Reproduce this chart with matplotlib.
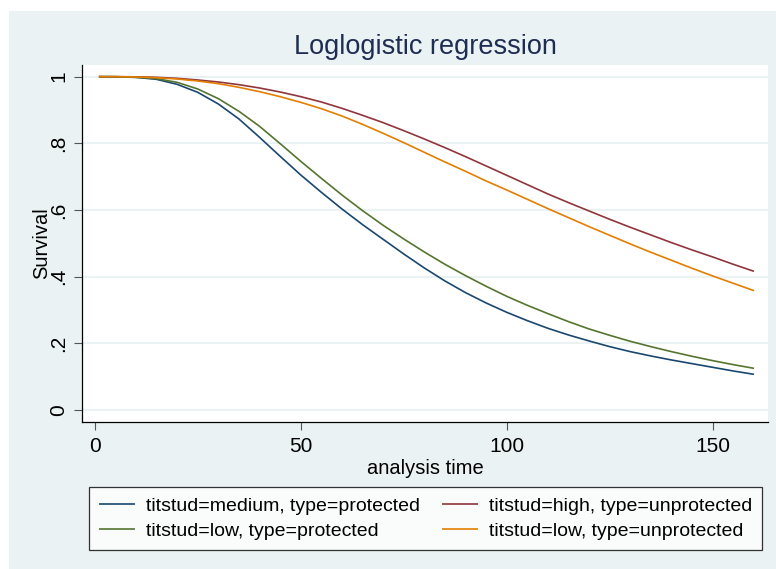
import matplotlib
matplotlib.use("Agg")
import matplotlib.pyplot as plt
from matplotlib.patches import Rectangle

plt.rcParams['font.family'] = ['Liberation Sans', 'DejaVu Sans']

###### Data #####
t = [1, 5, 10, 15, 20, 25, 30, 35, 40, 45, 50, 55, 60, 65, 70, 75, 80,
     85, 90, 95, 100, 105, 110, 115, 120, 125, 130, 135, 140, 145, 150, 155, 160]

med_prot = [1.0, 0.9995, 0.998, 0.992, 0.977, 0.953, 0.918, 0.873, 0.818, 0.761, 0.705,
            0.653, 0.603, 0.556, 0.512, 0.468, 0.426, 0.387, 0.352, 0.321, 0.293,
            0.268, 0.245, 0.225, 0.207, 0.190, 0.175, 0.162, 0.150, 0.139, 0.128,
            0.117, 0.107]
high_unprot = [1.0, 1.0, 0.9995, 0.998, 0.995, 0.990, 0.984, 0.976, 0.966, 0.954, 0.940,
               0.924, 0.905, 0.884, 0.862, 0.838, 0.813, 0.787, 0.760, 0.732, 0.704,
               0.676, 0.648, 0.622, 0.597, 0.572, 0.548, 0.525, 0.502, 0.480, 0.459,
               0.437, 0.416]
low_prot = [1.0, 1.0, 0.998, 0.994, 0.983, 0.963, 0.934, 0.896, 0.851, 0.799, 0.746,
            0.695, 0.645, 0.598, 0.554, 0.513, 0.474, 0.437, 0.403, 0.371, 0.341,
            0.314, 0.289, 0.265, 0.243, 0.224, 0.206, 0.190, 0.175, 0.161, 0.148,
            0.136, 0.125]
low_unprot = [1.0, 1.0, 0.999, 0.997, 0.993, 0.987, 0.979, 0.968, 0.955, 0.940, 0.923,
              0.904, 0.882, 0.857, 0.830, 0.802, 0.773, 0.744, 0.716, 0.687, 0.660,
              0.632, 0.604, 0.577, 0.550, 0.524, 0.498, 0.473, 0.449, 0.425, 0.402,
              0.380, 0.358]

labels = ['titstud=medium, type=protected', 'titstud=high, type=unprotected',
          'titstud=low, type=protected', 'titstud=low, type=unprotected']
colors = ['#1a476f', '#90353b', '#55752f', '#e37e00']

yticks = [0, 0.2, 0.4, 0.6, 0.8, 1]
ytick_labels = ['0', '.2', '.4', '.6', '.8', '1']
xticks = [0, 50, 100, 150]

bg = '#eaf2f3'

###### Figure #####
fig = plt.figure(figsize=(7.76, 5.69), dpi=100, facecolor='white')
W, H = 776.0, 569.0
fig.patches.append(Rectangle((9 / W, 0), 1 - 9 / W, 1 - 11 / H,
                             transform=fig.transFigure, facecolor=bg,
                             edgecolor='none', zorder=-10))

ax = fig.add_axes([82 / W, 1 - 422 / H, 686 / W, 357 / H])
ax.set_facecolor('white')

series = [med_prot, high_unprot, low_prot, low_unprot]
lines = []
for s, lab, c in zip(series, labels, colors):
    ln, = ax.plot(t, s, color=c, lw=1.2, label=lab, solid_capstyle='butt')
    lines.append(ln)

ax.set_xlim(-3.1, 163.4)
ax.set_ylim(-0.036, 1.035)
ax.set_xticks(xticks)
ax.set_yticks(yticks)
ax.set_yticklabels(ytick_labels, rotation=90, va='center')
ax.tick_params(axis='both', labelsize=15, length=6, width=0.8, color='#555555')
ax.tick_params(axis='x', pad=5)
ax.tick_params(axis='y', pad=4)
ax.grid(axis='y', color=bg, lw=1.5)
ax.set_axisbelow(True)
for side in ['top', 'right']:
    ax.spines[side].set_visible(False)
for side in ['left', 'bottom']:
    ax.spines[side].set_linewidth(0.9)

ax.set_xlabel('analysis time', fontsize=14.5, labelpad=2)
ax.set_ylabel('Survival', fontsize=14.5, labelpad=-1.5)
ax.set_title('Loglogistic regression', fontsize=19.5, color='#1e2d53', pad=8)

# legend is filled row by row in the reference
order = [0, 2, 1, 3]
leg = fig.legend([lines[i] for i in order], [labels[i] for i in order],
                 loc='center', bbox_to_anchor=(425.5 / W, 1 - 518.5 / H),
                 ncol=2, fontsize=14, frameon=True, fancybox=False,
                 handlelength=1.85, handletextpad=0.57, columnspacing=1.1,
                 labelspacing=0.38, borderpad=0.5, borderaxespad=0)
leg.get_frame().set_edgecolor('black')
leg.get_frame().set_linewidth(0.9)

plt.savefig('out.png', dpi=100, facecolor=fig.get_facecolor())
